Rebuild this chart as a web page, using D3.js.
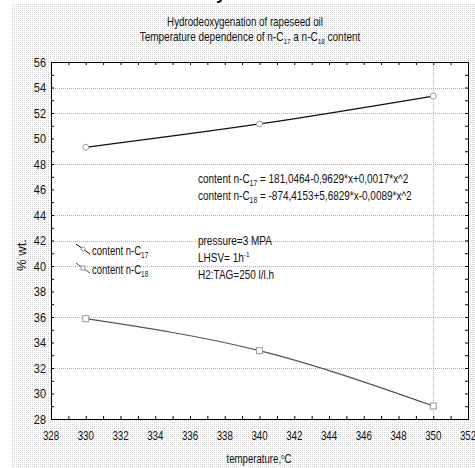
<!DOCTYPE html>
<html lang="en">
<head>
<meta charset="utf-8">
<title>Hydrodeoxygenation of rapeseed oil</title>
<script src="https://d3js.org/d3.v7.min.js"></script>
<style>
  body { margin: 0; background: #fff; }
  text { font-family: "Liberation Sans", Arial, sans-serif; fill: #111; }
</style>
</head>
<body>
<script>
// data
var temps = [330, 340, 350];
var c17 = [49.31, 51.14, 53.33];
var c18 = [35.87, 33.36, 29.02];
var xTicks = [328, 330, 332, 334, 336, 338, 340, 342, 344, 346, 348, 350, 352];
var yTicks = [28, 30, 32, 34, 36, 38, 40, 42, 44, 46, 48, 50, 52, 54, 56];
var gridY = [54, 52, 48, 44, 42, 40, 36, 32];
var gridX = [350];

var width = 475, height = 468;
var plotL = 51, plotR = 468, plotT = 62, plotB = 419;

var svg = d3.select("body").append("svg")
    .attr("width", width)
    .attr("height", height);

// the original uses a narrow face, so squeeze the text sideways
function label(parent, xx, yy, size, k, anchor) {
  return parent.append("g")
      .attr("transform", "translate(" + xx + "," + yy + ") scale(" + k + ",1)")
    .append("text")
      .attr("font-size", size)
      .attr("text-anchor", anchor || "start");
}

// dotted backdrop
var defs = svg.append("defs");
var pat = defs.append("pattern")
    .attr("id", "dots")
    .attr("width", 2).attr("height", 2)
    .attr("patternUnits", "userSpaceOnUse");
pat.append("rect").attr("width", 2).attr("height", 2).attr("fill", "#fff");
pat.append("rect").attr("width", 1).attr("height", 1).attr("fill", "#d6d6d6");

svg.append("rect")
    .attr("x", 11).attr("y", 3)
    .attr("width", width - 11).attr("height", 464)
    .attr("fill", "url(#dots)");

// scrap of a glyph cut off at the top
svg.append("text")
    .attr("x", 221).attr("y", -1)
    .attr("text-anchor", "middle")
    .attr("font-size", 18)
    .attr("font-weight", "bold")
    .text("y");

var x = d3.scaleLinear().domain([328, 352]).range([plotL, plotR]);
var y = d3.scaleLinear().domain([28, 56]).range([plotB, plotT]);

svg.append("rect")
    .attr("x", plotL).attr("y", plotT)
    .attr("width", plotR - plotL).attr("height", plotB - plotT)
    .attr("fill", "#fff");

// grid
svg.append("g").selectAll("line")
    .data(gridY)
    .enter().append("line")
    .attr("x1", plotL).attr("x2", plotR)
    .attr("y1", function(d) { return Math.round(y(d)) + 0.5; })
    .attr("y2", function(d) { return Math.round(y(d)) + 0.5; })
    .attr("stroke", "#b0b0b0")
    .attr("stroke-dasharray", "1,1");

svg.append("g").selectAll("line")
    .data(gridX)
    .enter().append("line")
    .attr("y1", plotT).attr("y2", plotB)
    .attr("x1", function(d) { return Math.round(x(d)) + 0.5; })
    .attr("x2", function(d) { return Math.round(x(d)) + 0.5; })
    .attr("stroke", "#b0b0b0")
    .attr("stroke-dasharray", "1,1");

// axes, ticks point inwards on all four sides
var minorX = d3.range(328, 353, 1);
var minorY = d3.range(28, 57, 1);

function noDomain(g) { g.select(".domain").remove(); }

svg.append("g")
    .attr("transform", "translate(0," + plotB + ")")
    .call(d3.axisBottom(x).tickValues(minorX).tickSize(-3).tickFormat(""))
    .call(noDomain);
svg.append("g")
    .attr("transform", "translate(0," + plotT + ")")
    .call(d3.axisTop(x).tickValues(minorX).tickSize(-3).tickFormat(""))
    .call(noDomain);
svg.append("g")
    .attr("transform", "translate(" + plotL + ",0)")
    .call(d3.axisLeft(y).tickValues(minorY).tickSize(-3).tickFormat(""))
    .call(noDomain);
svg.append("g")
    .attr("transform", "translate(" + plotR + ",0)")
    .call(d3.axisRight(y).tickValues(minorY).tickSize(-3).tickFormat(""))
    .call(noDomain);

svg.selectAll(".tick line").attr("stroke", "#000");

svg.append("rect")
    .attr("x", plotL + 0.5).attr("y", plotT + 0.5)
    .attr("width", plotR - plotL).attr("height", plotB - plotT)
    .attr("fill", "none")
    .attr("stroke", "#000");

// tick labels
var xl = svg.append("g");
xTicks.forEach(function(d) {
  label(xl, x(d), 440, 12.5, 0.78, "middle").text(d);
});

var yl = svg.append("g");
yTicks.forEach(function(d) {
  label(yl, 46, y(d) + 4.5, 13, 0.84, "end").text(d);
});

// axis titles
var xt = label(svg, 259, 463, 12.5, 0.77, "middle");
xt.append("tspan").text("temperature,");
xt.append("tspan").attr("dy", -4).attr("font-size", 8).text("o");
xt.append("tspan").attr("dy", 4).text("C");

svg.append("text")
    .attr("transform", "translate(26,255) rotate(-90)")
    .attr("text-anchor", "middle")
    .attr("font-size", 13)
    .text("% wt.");

// title
label(svg, 245, 26, 12.5, 0.78, "middle").text("Hydrodeoxygenation of rapeseed oil");

var t2 = label(svg, 250, 41, 12.5, 0.8, "middle");
t2.append("tspan").text("Temperature dependence of n-C");
t2.append("tspan").attr("dy", 3).attr("font-size", 8).text("17");
t2.append("tspan").attr("dy", -3).text(" a n-C");
t2.append("tspan").attr("dy", 3).attr("font-size", 8).text("18");
t2.append("tspan").attr("dy", -3).text("  content");

// series
var line = d3.line()
    .x(function(d) { return x(d[0]); })
    .y(function(d) { return y(d[1]); })
    .curve(d3.curveNatural);

var s17 = d3.zip(temps, c17);
var s18 = d3.zip(temps, c18);

svg.append("path")
    .datum(s17)
    .attr("d", line)
    .attr("fill", "none")
    .attr("stroke", "#111")
    .attr("stroke-width", 1.2);

svg.append("path")
    .datum(s18)
    .attr("d", line)
    .attr("fill", "none")
    .attr("stroke", "#555")
    .attr("stroke-width", 1.2);

svg.append("g").selectAll("circle")
    .data(s17)
    .enter().append("circle")
    .attr("cx", function(d) { return x(d[0]); })
    .attr("cy", function(d) { return y(d[1]); })
    .attr("r", 3)
    .attr("fill", "#fff")
    .attr("stroke", "#999");

svg.append("g").selectAll("rect")
    .data(s18)
    .enter().append("rect")
    .attr("x", function(d) { return x(d[0]) - 3; })
    .attr("y", function(d) { return y(d[1]) - 3; })
    .attr("width", 6).attr("height", 6)
    .attr("fill", "#fff")
    .attr("stroke", "#999");

// legend
function subText(g, xx, yy, pre, sub, post, size, k) {
  var t = label(g, xx, yy, size, k);
  t.append("tspan").text(pre);
  t.append("tspan").attr("dy", 3).attr("font-size", size * 0.68).text(sub);
  t.append("tspan").attr("dy", -3).text(post);
  return t;
}

var legend = [
  { sub: "17", y: 255, stroke: "#111", shape: "circle" },
  { sub: "18", y: 274, stroke: "#555", shape: "square" }
];
var lg = svg.append("g");
legend.forEach(function(d) {
  lg.append("line")
    .attr("x1", 76).attr("y1", d.y - 11)
    .attr("x2", 90).attr("y2", d.y - 1)
    .attr("stroke", d.stroke);
  if (d.shape == "circle") {
    lg.append("circle").attr("cx", 83).attr("cy", d.y - 6).attr("r", 2)
      .attr("fill", "#fff").attr("stroke", "#999");
  } else {
    lg.append("rect").attr("x", 81).attr("y", d.y - 8).attr("width", 4).attr("height", 4)
      .attr("fill", "#fff").attr("stroke", "#999");
  }
  subText(lg, 92, d.y, "content n-C", d.sub, "", 12.5, 0.76);
});

// fitted equations
subText(svg, 198, 183, "content n-C", "17", " = 181,0464-0,9629*x+0,0017*x^2", 12.5, 0.8);
subText(svg, 198, 200, "content n-C", "18", " = -874,4153+5,6829*x-0,0089*x^2", 12.5, 0.8);

// conditions
label(svg, 198, 245, 12.5, 0.8).text("pressure=3 MPA");
var lh = label(svg, 198, 262, 12.5, 0.8);
lh.append("tspan").text("LHSV= 1h");
lh.append("tspan").attr("dy", -5).attr("font-size", 8).text("-1");
label(svg, 198, 279, 12.5, 0.8).text("H2:TAG=250 l/l.h");
</script>
</body>
</html>
